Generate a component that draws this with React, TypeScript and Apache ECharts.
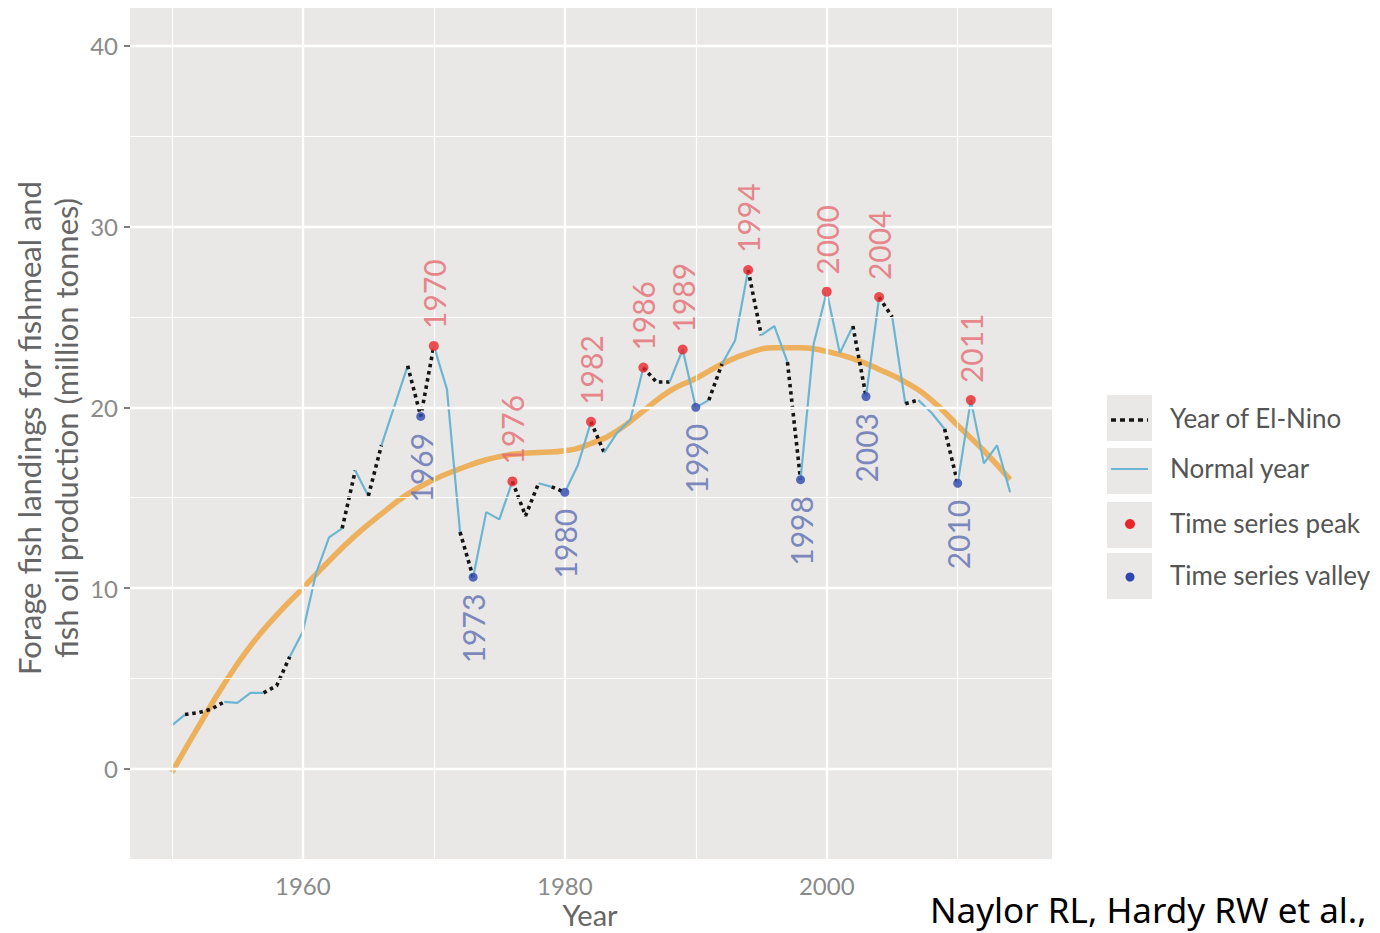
import React, { useEffect, useRef } from "react";
import * as echarts from "echarts";

const years = [
  1950, 1951, 1952, 1953, 1954, 1955, 1956, 1957, 1958, 1959,
  1960, 1961, 1962, 1963, 1964, 1965, 1966, 1967, 1968, 1969,
  1970, 1971, 1972, 1973, 1974, 1975, 1976, 1977, 1978, 1979,
  1980, 1981, 1982, 1983, 1984, 1985, 1986, 1987, 1988, 1989,
  1990, 1991, 1992, 1993, 1994, 1995, 1996, 1997, 1998, 1999,
  2000, 2001, 2002, 2003, 2004, 2005, 2006, 2007, 2008, 2009,
  2010, 2011, 2012, 2013, 2014,
];

const landings = [
  2.4, 3.0, 3.1, 3.3, 3.7, 3.65, 4.2, 4.2, 4.6, 6.2,
  7.6, 10.8, 12.8, 13.3, 16.5, 15.1, 17.9, 20.1, 22.3, 19.5,
  23.4, 21.0, 13.1, 10.6, 14.2, 13.8, 15.9, 14.0, 15.8, 15.6,
  15.3, 16.8, 19.2, 17.5, 18.6, 19.3, 22.2, 21.4, 21.4, 23.2,
  20.0, 20.4, 22.4, 23.7, 27.6, 24.0, 24.5, 22.5, 16.0, 23.5,
  26.4, 23.0, 24.5, 20.6, 26.1, 25.0, 20.2, 20.4, 19.7, 18.8,
  15.8, 20.4, 16.9, 17.9, 15.3,
];

// first year of each segment drawn as an El-Nino (dotted) segment
const elNinoSegmentStarts = [
  1951, 1952, 1953, 1957, 1958, 1963, 1965, 1968, 1969, 1972,
  1976, 1977, 1979, 1982, 1986, 1987, 1991, 1994, 1997, 2002,
  2004, 2006, 2009,
];

const peakYears = [1970, 1976, 1982, 1986, 1989, 1994, 2000, 2004, 2011];
const valleyYears = [1969, 1973, 1980, 1990, 1998, 2003, 2010];

const loessYears = [
  1950, 1952, 1954, 1956, 1958, 1960, 1962, 1964, 1966, 1968,
  1970, 1972, 1974, 1976, 1978, 1980, 1982, 1984, 1986, 1988,
  1990, 1992, 1994, 1996, 1998, 2000, 2002, 2004, 2006, 2008,
  2010, 2012, 2014,
];
const loessValues = [
  -0.2, 2.3, 4.7, 6.8, 8.5, 10.0, 11.5, 12.9, 14.1, 15.2,
  16.0, 16.6, 17.1, 17.4, 17.5, 17.6, 18.0, 18.7, 19.8, 20.9,
  21.6, 22.4, 23.0, 23.3, 23.3, 23.1, 22.7, 22.1, 21.4, 20.4,
  19.0, 17.6, 16.0,
];

const xTickValues = [1960, 1980, 2000];
const yTickValues = [0, 10, 20, 30, 40];
const xMinorGrid = [1950, 1970, 1990, 2010];
const yMinorGrid = [-5, 5, 15, 25, 35];

const legendLabels = ["Year of El-Nino", "Normal year", "Time series peak", "Time series valley"];

const FONT = "Lato, 'DejaVu Sans', sans-serif";

export default function App() {
  const ref = useRef<HTMLDivElement>(null);

  useEffect(() => {
    const chart = echarts.init(ref.current!, null, { renderer: "svg" });

    // split the yearly line into runs of El-Nino / normal segments
    const runs: { dotted: boolean; pts: number[][] }[] = [];
    let cur: { dotted: boolean; pts: number[][] } | null = null;
    for (let i = 0; i < years.length - 1; i++) {
      const dotted = elNinoSegmentStarts.includes(years[i]);
      if (!cur || cur.dotted !== dotted) {
        cur = { dotted, pts: [[years[i], landings[i]]] };
        runs.push(cur);
      }
      cur.pts.push([years[i + 1], landings[i + 1]]);
    }

    const lineSeries = runs.map((r) => ({
      type: "line",
      data: r.pts,
      symbol: "none",
      silent: true,
      z: 4,
      lineStyle: r.dotted
        ? { color: "#141414", width: 3.6, type: [3.5, 3.8], cap: "butt" }
        : { color: "#6CB5D2", width: 2.2 },
    }));

    const gridLine = (axis: "xAxis" | "yAxis", v: number, w: number) => ({
      [axis]: v,
      lineStyle: { color: "#ffffff", width: w, type: "solid" },
    });

    const option: any = {
      animation: false,
      backgroundColor: "#ffffff",
      grid: {
        left: 130,
        right: 328,
        top: 8,
        bottom: 73,
        show: true,
        backgroundColor: "#E9E8E6",
        borderWidth: 0,
      },
      xAxis: {
        type: "value",
        min: 1946.8,
        max: 2017.2,
        splitLine: { show: false },
        axisLine: { show: false },
        axisTick: {
          show: true,
          customValues: xTickValues,
          length: 6,
          lineStyle: { color: "#555", width: 1.5 },
        },
        axisLabel: {
          customValues: xTickValues,
          formatter: (v: number) => String(v),
          color: "#8a8a8a",
          fontSize: 24,
          fontFamily: FONT,
          margin: 13,
        },
      },
      yAxis: {
        type: "value",
        min: -5.05,
        max: 42.1,
        splitLine: { show: false },
        axisLine: { show: false },
        axisTick: {
          show: true,
          customValues: yTickValues,
          length: 6,
          lineStyle: { color: "#555", width: 1.5 },
        },
        axisLabel: {
          customValues: yTickValues,
          formatter: (v: number) => String(v),
          color: "#8a8a8a",
          fontSize: 24,
          fontFamily: FONT,
          margin: 12,
        },
      },
      series: [
        {
          type: "line",
          data: [],
          silent: true,
          z: 1,
          markLine: {
            silent: true,
            symbol: ["none", "none"],
            label: { show: false },
            animation: false,
            data: [
              ...xMinorGrid.map((v) => gridLine("xAxis", v, 1.2)),
              ...yMinorGrid.map((v) => gridLine("yAxis", v, 1.2)),
              ...xTickValues.map((v) => gridLine("xAxis", v, 2.4)),
              ...yTickValues.map((v) => gridLine("yAxis", v, 2.4)),
            ],
          },
        },
        {
          type: "line",
          data: loessYears.map((y, i) => [y, loessValues[i]]),
          smooth: true,
          symbol: "none",
          silent: true,
          z: 3,
          lineStyle: { color: "#EDAA4C", width: 5.5, opacity: 0.9 },
        },
        ...lineSeries,
        {
          type: "scatter",
          data: peakYears.map((y) => [y, landings[years.indexOf(y)]]),
          symbolSize: 10,
          z: 6,
          itemStyle: { color: "#E8262B" },
          label: {
            show: true,
            formatter: (p: any) => String(p.value[0]),
            position: "top",
            distance: 12,
            rotate: 90,
            align: "left",
            verticalAlign: "middle",
            fontSize: 30,
            fontFamily: FONT,
            color: "#E56A73",
          },
        },
        {
          type: "scatter",
          data: valleyYears.map((y) => [y, landings[years.indexOf(y)]]),
          symbolSize: 9,
          z: 6,
          itemStyle: { color: "#2D47AE" },
          label: {
            show: true,
            formatter: (p: any) => String(p.value[0]),
            position: "bottom",
            distance: 12,
            rotate: 90,
            align: "right",
            verticalAlign: "middle",
            fontSize: 30,
            fontFamily: FONT,
            color: "#5D6CB2",
          },
        },
      ],
      graphic: [
        {
          type: "text",
          x: 47,
          y: 428,
          rotation: Math.PI / 2,
          style: {
            text: "Forage fish landings for fishmeal and\nfish oil production (million tonnes)",
            fontSize: 31,
            lineHeight: 37,
            fontFamily: FONT,
            fill: "#666666",
            align: "center",
            verticalAlign: "middle",
          },
        },
        {
          type: "text",
          x: 590,
          y: 914,
          style: {
            text: "Year",
            fontSize: 29,
            fontFamily: FONT,
            fill: "#666666",
            align: "center",
            verticalAlign: "middle",
          },
        },
        // legend keys
        ...[395, 448, 502, 553].map((top) => ({
          type: "rect",
          shape: { x: 1107, y: top, width: 45, height: 46 },
          style: { fill: "#E9E8E6" },
        })),
        {
          type: "line",
          shape: { x1: 1111, y1: 420, x2: 1148, y2: 420 },
          style: { stroke: "#141414", lineWidth: 3.6, lineDash: [5, 4] },
        },
        {
          type: "line",
          shape: { x1: 1111, y1: 469, x2: 1148, y2: 469 },
          style: { stroke: "#6CB5D2", lineWidth: 2.2 },
        },
        {
          type: "circle",
          shape: { cx: 1130, cy: 524, r: 5 },
          style: { fill: "#E8262B" },
        },
        {
          type: "circle",
          shape: { cx: 1130, cy: 577, r: 4.5 },
          style: { fill: "#2D47AE" },
        },
        ...legendLabels.map((t, i) => ({
          type: "text",
          x: 1170,
          y: [418, 468, 523, 575][i],
          style: {
            text: t,
            fontSize: 26,
            fontFamily: FONT,
            fill: "#555555",
            align: "left",
            verticalAlign: "middle",
          },
        })),
        {
          type: "text",
          x: 930,
          y: 909,
          style: {
            text: "Naylor RL, Hardy RW et al.,",
            fontSize: 35,
            fontFamily: "'Noto Sans', 'Open Sans', sans-serif",
            fill: "#000000",
            align: "left",
            verticalAlign: "middle",
          },
        },
      ],
    };

    chart.setOption(option);
    return () => chart.dispose();
  }, []);

  return (
    <div
      ref={ref}
      style={{ position: "absolute", left: 0, top: 0, width: 1380, height: 933, background: "#fff" }}
    />
  );
}
